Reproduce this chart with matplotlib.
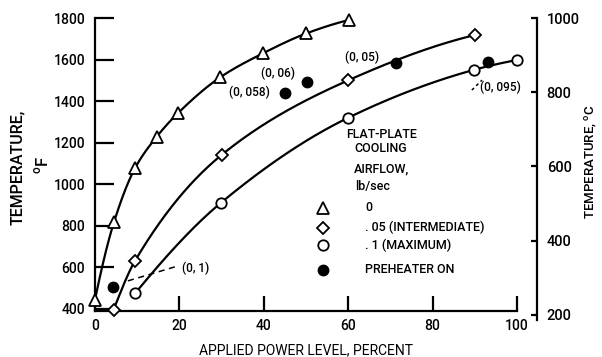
import numpy as np
import matplotlib
matplotlib.use("Agg")
import matplotlib.pyplot as plt

plt.rcParams['font.family'] = ['Roboto', 'DejaVu Sans']
plt.rcParams['font.weight'] = 'medium'
plt.rcParams['mathtext.fontset'] = 'custom'
plt.rcParams['mathtext.rm'] = 'Roboto:medium'

# cooling airflow 0 lb/sec
tri_power = [0, 4.5, 9.5, 14.6, 19.7, 29.7, 39.8, 50.1, 60.1]
tri_temp = [445, 818, 1078, 1228, 1343, 1515, 1630, 1726, 1790]

# cooling airflow .05 lb/sec (intermediate)
dia_power = [4.4, 9.5, 30.0, 60.0, 90.0]
dia_temp = [397, 632, 1141, 1500, 1718]

# cooling airflow .1 lb/sec (maximum)
circ_power = [9.5, 29.8, 60.0, 89.7, 100.0]
circ_temp = [475, 910, 1320, 1550, 1598]

# preheater on, with the measured airflow noted beside each point
pre_power = [4.3, 45.0, 50.2, 71.3, 93.1]
pre_temp = [505, 1440, 1492, 1583, 1588]
pre_labels = ["(0, 1)", "(0, 058)", "(0, 06)", "(0, 05)", "(0, 095)"]

c_ticks = [200, 400, 600, 800, 1000]
f_ticks = [400, 600, 800, 1000, 1200, 1400, 1600, 1800]
x_ticks = [0, 20, 40, 60, 80, 100]


def smooth(x, y, n=300):
    """Monotone cubic (PCHIP) curve through the points, no overshoot."""
    x = np.asarray(x, float)
    y = np.asarray(y, float)
    h = np.diff(x)
    d = np.diff(y) / h
    m = np.zeros_like(y)
    for i in range(1, len(x) - 1):
        if d[i - 1] * d[i] > 0:
            w1 = 2 * h[i] + h[i - 1]
            w2 = h[i] + 2 * h[i - 1]
            m[i] = (w1 + w2) / (w1 / d[i - 1] + w2 / d[i])
    m[0] = ((2 * h[0] + h[1]) * d[0] - h[0] * d[1]) / (h[0] + h[1]) if len(x) > 2 else d[0]
    m[-1] = ((2 * h[-1] + h[-2]) * d[-1] - h[-1] * d[-2]) / (h[-1] + h[-2]) if len(x) > 2 else d[-1]
    xs = np.linspace(x[0], x[-1], n)
    k = np.clip(np.searchsorted(x, xs) - 1, 0, len(x) - 2)
    t = (xs - x[k]) / h[k]
    h00 = 2 * t ** 3 - 3 * t ** 2 + 1
    h10 = t ** 3 - 2 * t ** 2 + t
    h01 = -2 * t ** 3 + 3 * t ** 2
    h11 = t ** 3 - t ** 2
    ys = h00 * y[k] + h10 * h[k] * m[k] + h01 * y[k + 1] + h11 * h[k] * m[k + 1]
    return xs, ys


W, H = 602, 357
fig = plt.figure(figsize=(W / 100, H / 100), dpi=100)
ax = fig.add_axes([95 / W, (H - 311) / H, 422 / W, 293 / H])

lw = 1.6
mk = dict(mfc='white', mec='black', mew=1.3, ls='none', zorder=4, clip_on=False)

for px, py in [(tri_power, tri_temp), (dia_power, dia_temp), (circ_power, circ_temp)]:
    xs, ys = smooth(px, py)
    ax.plot(xs, ys, color='black', lw=lw, zorder=2, clip_on=False)

ax.plot(tri_power, tri_temp, marker='^', ms=8.5, **mk)
ax.plot(dia_power, dia_temp, marker='D', ms=6, **mk)
ax.plot(circ_power, circ_temp, marker='o', ms=7.5, **mk)
ax.plot(pre_power, pre_temp, marker='o', ms=7.5, color='black', ls='none',
        zorder=5, clip_on=False)

ax.set_xlim(0, 100)
ax.set_ylim(390, 1800)
for s in ['top', 'right']:
    ax.spines[s].set_visible(False)
for s in ['left', 'bottom']:
    ax.spines[s].set_linewidth(1.6)

ax.set_yticks(f_ticks)
ax.set_xticks(x_ticks)
ax.tick_params(axis='y', direction='in', length=14, width=1.6, pad=7, labelsize=10)
ax.tick_params(axis='x', direction='in', length=11, width=1.6, pad=6, labelsize=10)

ax.set_xlabel("APPLIED POWER LEVEL, PERCENT", fontsize=10, labelpad=7)
fig.text(18 / W, 1 - 167 / H, "TEMPERATURE,", rotation=90, ha='center',
         va='center', fontsize=11.5)
fig.text(42 / W, 1 - 165 / H, r"$^{\mathrm{o}}$F", rotation=90, ha='center',
         va='center', fontsize=12)

# point notes for the preheater runs
note_pos = [(20.6, 597, 'left'), (41.5, 1440, 'right'), (43.3, 1531, 'center'),
            (63.3, 1612, 'center'), (91.3, 1468, 'left')]
for (tx, ty, ha), lab in zip(note_pos, pre_labels):
    ax.text(tx, ty, lab, ha=ha, va='center', fontsize=8.5)
ax.plot([7.8, 19.7], [535, 607], color='black', lw=1.1, ls=(0, (4, 3)))
ax.plot([89.3, 91.7], [1453, 1501], color='black', lw=1.1, ls=(0, (2, 2)))

# key
for lab, ty in [("FLAT-PLATE", 1237), ("COOLING", 1170), ("AIRFLOW,", 1075)]:
    ax.text(67.8, ty, lab, ha='center', va='center', fontsize=9)
ax.text(65.9, 987, "lb/sec", ha='center', va='center', fontsize=9)
key_x = 54.0
ax.plot(key_x, 886, marker='^', ms=8, **mk)
ax.plot(key_x, 790, marker='D', ms=6, **mk)
ax.plot(key_x, 708, marker='o', ms=7.5, **mk)
ax.plot(key_x, 588, marker='o', ms=7.5, color='black', clip_on=False)
for lab, ty in [("0", 886), (". 05 (INTERMEDIATE)", 790), (". 1 (MAXIMUM)", 708),
                ("PREHEATER ON", 588)]:
    ax.text(64.0, ty, lab, ha='left', va='center', fontsize=9)

# Celsius scale on the right
ax2 = fig.add_axes([520 / W, (H - 320) / H, 17 / W, 302 / H])
ax2.set_ylim(186.5, 1000)
ax2.set_xticks([])
for s in ['top', 'left', 'bottom']:
    ax2.spines[s].set_visible(False)
ax2.spines['right'].set_linewidth(1.6)
ax2.patch.set_alpha(0)
ax2.yaxis.tick_right()
ax2.set_yticks(c_ticks)
ax2.tick_params(axis='y', direction='in', length=4, width=1.6, pad=7, labelsize=10.5)
fig.text(592 / W, 1 - 162 / H, r"TEMPERATURE, $^{\mathrm{o}}$C", rotation=90,
         ha='center', va='center', fontsize=9.5)

fig.savefig("out.png", dpi=100)
